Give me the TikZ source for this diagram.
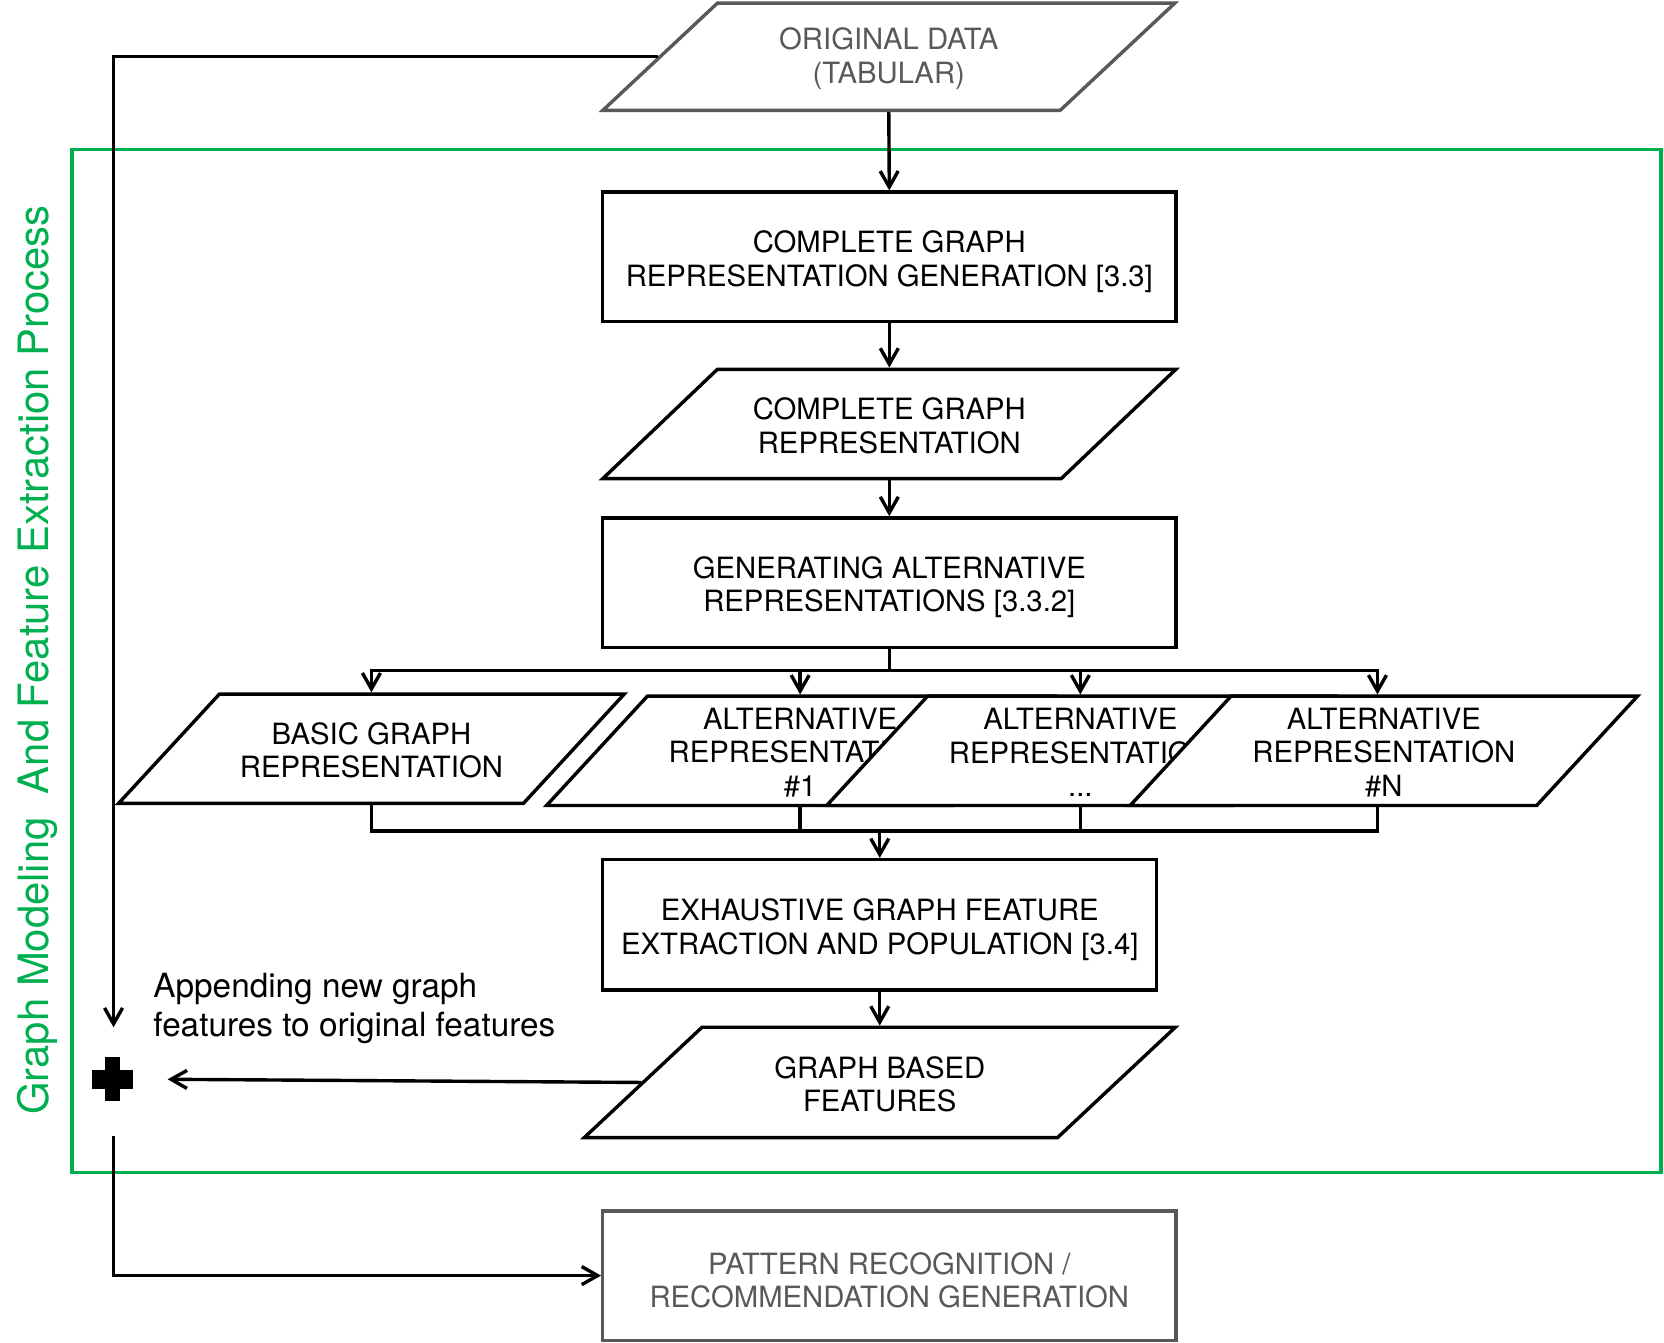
\documentclass[tikz,border=0pt]{standalone}
\usepackage{fontspec}
\setmainfont{TeX Gyre Heros}
\usetikzlibrary{arrows.meta}
\definecolor{grn}{RGB}{0,176,80}
\definecolor{gry}{RGB}{89,89,89}
\newcommand{\paranode}[8][black]{%
  \filldraw[fill=white,draw=#1] ({#3-#5/2+#7/2},{#4-#6/2}) -- ++(#5,0) -- ++(-#7,#6) -- ++(-#5,0) -- cycle;
  \node[inner sep=0pt,minimum width=#5*0.5pt,minimum height=#6*0.5pt] (#2) at (#3,#4) {};
  \node[boxtext,text=#1] (#2t) at ([yshift=-0.8pt]#2.center) {#8};}
\newcommand{\procnode}[6][black]{%
  \node[draw=#1, fill=white, inner sep=0pt, minimum width=#5*0.5pt, minimum height=#6*0.5pt] (#2) at (#3,#4) {};
  \node[boxtext,text=#1] (#2t) at ([yshift=-2.2pt]#2.center) {\procbody};}
\begin{document}
\begin{tikzpicture}[x=0.5pt,y=-0.5pt,
  line width=1.6pt, line join=miter,
  >={Straight Barb[length=7.5pt,width=8.5pt]},
  boxtext/.style={font=\fontsize{13.8}{15.8}\selectfont, align=center, inner sep=0pt}
]
\useasboundingbox (0,0) rectangle (1568,1264.6);
% group frame
\draw[grn, line width=1.7pt] (68,141) rectangle (1565,1105);
\node[rotate=90, text=grn, font=\fontsize{19.7}{22}\selectfont, inner sep=0pt] (lbl) at (35,622) {Graph Modeling\ \ And Feature Extraction Process};

% shapes
\paranode[gry]{od}{837.5}{53.5}{431}{101}{108}{ORIGINAL DATA\\(TABULAR)}
\def\procbody{COMPLETE GRAPH\\REPRESENTATION GENERATION [3.3]}
\procnode{b1}{838}{242}{540}{122}
\paranode{cg}{838}{399.5}{432}{103}{108}{COMPLETE GRAPH\\REPRESENTATION}
\def\procbody{GENERATING ALTERNATIVE\\REPRESENTATIONS [3.3.2]}
\procnode{b2}{838}{549}{540}{122}
\paranode{basic}{350}{705.5}{381.5}{103}{95}{BASIC GRAPH\\REPRESENTATION}
\paranode{alta}{754}{707.5}{383}{103}{95}{ALTERNATIVE\\REPRESENTATION\\\#1}
\paranode{altb}{1018}{707.5}{383}{103}{95}{ALTERNATIVE\\REPRESENTATION\\...}
\paranode{altn}{1304}{707.5}{383}{103}{95}{ALTERNATIVE\\REPRESENTATION\\\#N}
\def\procbody{EXHAUSTIVE GRAPH FEATURE\\EXTRACTION AND POPULATION [3.4]}
\procnode{b3}{829}{871.5}{522}{123}
\paranode{gf}{829}{1020}{446}{104}{111}{GRAPH BASED\\FEATURES}
\def\procbody{PATTERN RECOGNITION /\\RECOMMENDATION GENERATION}
\procnode[gry]{pr}{838}{1202}{540}{122}

% plus sign
\node[minimum size=20pt, inner sep=0pt] (plus) at (106,1016.5) {};
\fill (99,996) rectangle (113,1037);
\fill (87,1008) rectangle (125,1026);

\node[anchor=west, align=left, font=\fontsize{15.7}{18.2}\selectfont, inner sep=0pt] (note) at (143,950) {Appending new graph\\features to original features};

% connectors
\coordinate (split) at (838,632);
\coordinate (join) at (829,783);
\coordinate (plustop) at (107,968);
\coordinate (plusin) at (158,1017);
\coordinate (plusbot) at (107,1070);
\draw[->] (od.south) -- (b1.north);
\draw[->] (b1.south) -- (cg.north);
\draw[->] (cg.south) -- (b2.north);
\draw (b2.south) -- (split);
\draw[->] (split) -| (basic.north);
\draw[->] (split) -| (alta.north);
\draw[->] (split) -| (altb.north);
\draw[->] (split) -| ([xshift=-3pt]altn.north);
\draw (basic.south) |- (join);
\draw (alta.south) |- (join);
\draw (altb.south) |- (join);
\draw ([xshift=-3pt]altn.south) |- (join);
\draw[->] (join) -- (b3.north);
\draw[->] (b3.south) -- (gf.north);
\draw[->] (gf.west) -- (plusin);
\draw[->] (od.west) -| (plustop);
\draw[->] (plusbot) |- (pr.west);
\end{tikzpicture}
\end{document}
